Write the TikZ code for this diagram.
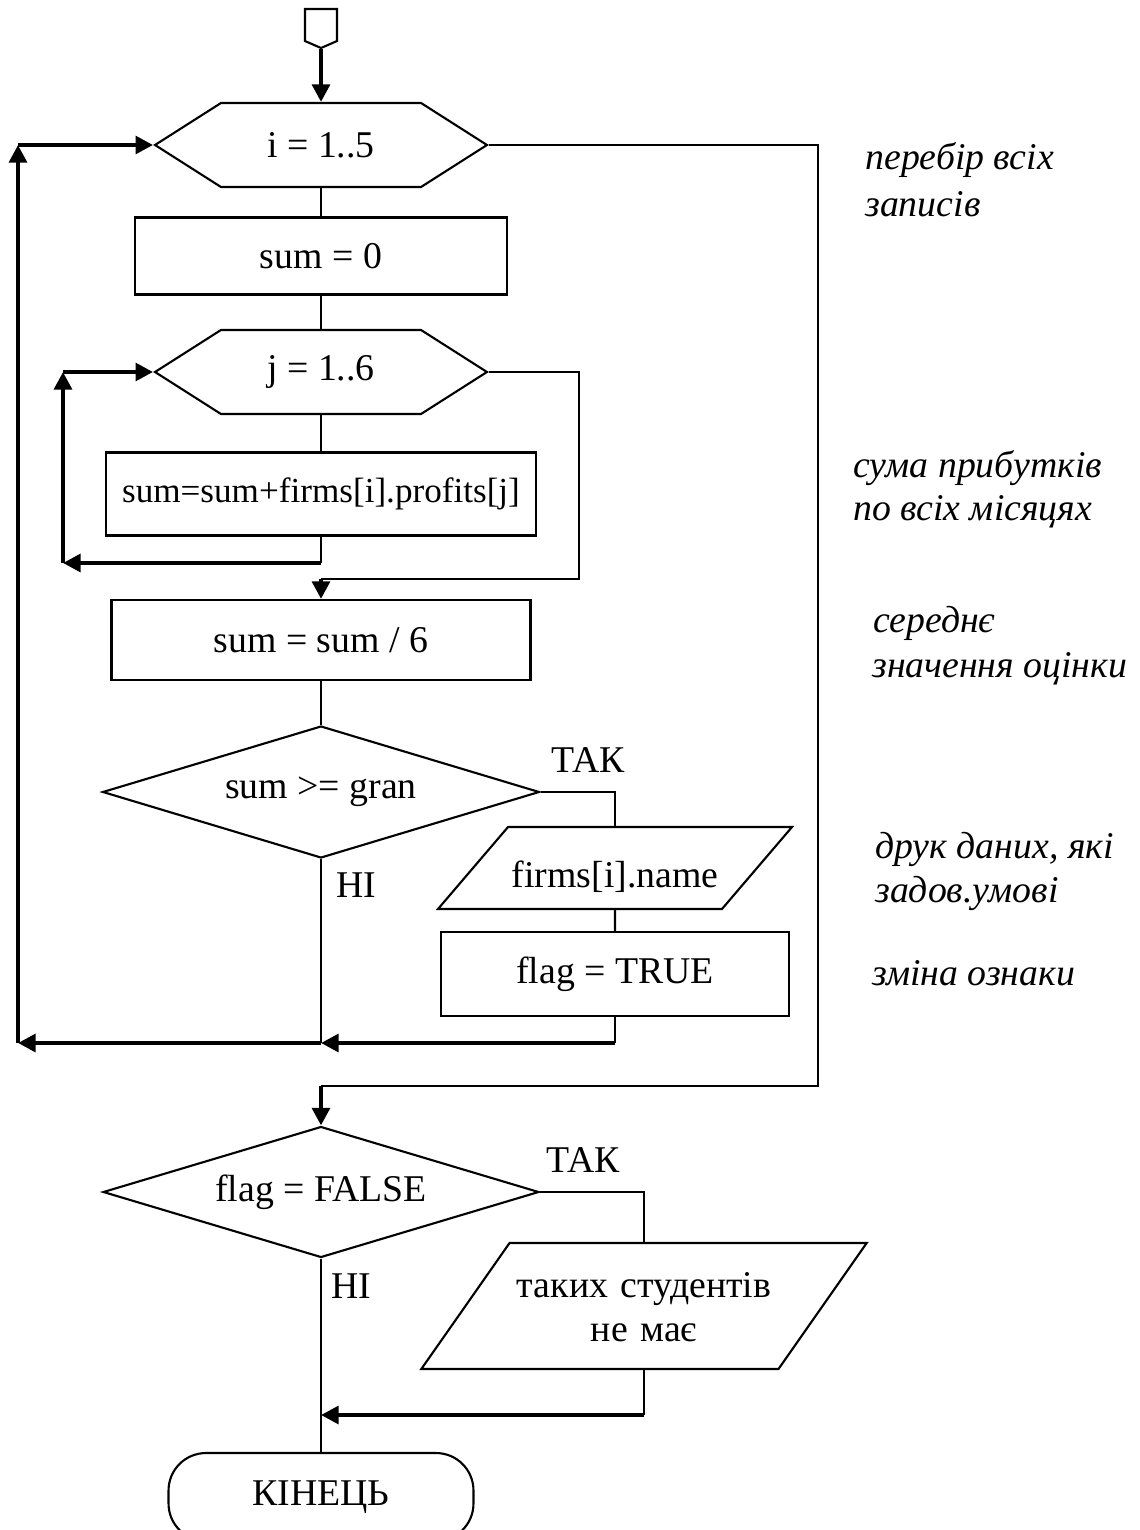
\documentclass[tikz,border=0pt]{standalone}
\usepackage{fontspec}
\setmainfont{Liberation Serif}
\usepackage{tikz}
\usetikzlibrary{arrows.meta}
\usetikzlibrary{shapes}

\begin{document}
\begin{tikzpicture}
[x=0.02cm,y=-0.02cm,%
  lineDecorate/.style={-,line width=1.2pt},%
  arrowDecorate/.style={-{Triangle[length=10pt,width=10pt]},line width=2.4pt},%
  loopDecorate/.style={shape=signal,signal to=west and east,signal pointer angle=65,draw,line width=1.2pt,inner sep=0pt,minimum width=6.64cm,minimum height=1.68cm},%
  boxDecorate/.style={shape=rectangle,draw,line width=1.2pt,inner sep=0pt},%
  ifDecorate/.style={shape=diamond,aspect=3.3,draw,line width=1.2pt,inner sep=0pt},%
  ioDecorate/.style={shape=trapezium,draw,line width=1.2pt,inner sep=0pt,align=center},%
  endDecorate/.style={shape=rectangle,rounded corners=0.75cm,draw,line width=1.2pt,inner sep=0pt,minimum width=6.1cm,minimum height=1.76cm},%
  noteDecorate/.style={anchor=base west,inner sep=0pt,font=\itshape}]
\fontsize{21.5}{25.5}\selectfont
\clip (0,0) rectangle (1139,1530);
%% nodes
\node[shape=signal,signal to=south,signal pointer angle=133,draw,line width=1.2pt,inner sep=0pt,minimum width=0.64cm,minimum height=0.64cm,anchor=north] (start) at (321,8) {};
\node[loopDecorate] (h1) at (321,145) {i = 1..5};
\node[boxDecorate,minimum width=7.44cm,minimum height=1.54cm] (s0) at (321,256) {sum = 0};
\node[loopDecorate] (h2) at (321,372) {j = 1..6};
\node[boxDecorate,minimum width=8.6cm,minimum height=1.66cm,font=\fontsize{20}{24}\selectfont] (acc) at (321,494) {sum=sum+firms[i].profits[j]};
\node[boxDecorate,minimum width=8.38cm,minimum height=1.6cm] (avg) at (321,640) {sum = sum / 6};
\node[ifDecorate,minimum width=8.74cm,minimum height=2.64cm] (d1) at (321,792) {sum >= gran};
\node[ioDecorate,trapezium left angle=49.5,trapezium right angle=130.5,text width=4.28cm,text height=1.2cm,text depth=0.44cm] (out1) at (615,868) {firms[i].name};
\node[boxDecorate,minimum width=6.96cm,minimum height=1.68cm] (set1) at (615,974) {flag = TRUE};
\node[ifDecorate,minimum width=8.72cm,minimum height=2.62cm] (d2) at (321,1192) {flag = FALSE};
\node[ioDecorate,trapezium left angle=55,trapezium right angle=125,text width=5.38cm,text height=1.08cm,text depth=1.44cm] (out2) at (644,1306) {таких студентів\\не має};
\node[endDecorate] (stop) at (321,1497) {КІНЕЦЬ};
%% branch labels
\node (yes1) at (588,760) {ТАК};
\node (no1) at (356,885) {НІ};
\node (yes2) at (583,1160) {ТАК};
\node (no2) at (351,1286) {НІ};
%% comments
\foreach \xpos/\ypos/\notetext in {
  865/170/{перебір всіх}, 865/217/{записів},
  853/477/{сума прибутків}, 853/520/{по всіх місяцях},
  873/632/{середнє}, 872/677/{значення оцінки},
  875/858/{друк даних, які}, 875/902/{задов.умові},
  872/985/{зміна ознаки}}
{
  \node[noteDecorate] (note\ypos) at (\xpos,\ypos) {\notetext};
}
%% main flow
\draw[arrowDecorate] (start.south) -- (h1.north);
\draw[lineDecorate] (h1.south) -- (s0.north);
\draw[lineDecorate] (s0.south) -- (h2.north);
\draw[lineDecorate] (h2.south) -- (acc.north);
\draw[lineDecorate] (avg.south) -- (d1.north);
%% inner loop
\coordinate (jback) at (63,563);
\draw[lineDecorate] (acc.south) -- (acc.south |- jback);
\draw[arrowDecorate] (acc.south |- jback) -- (jback);
\draw[arrowDecorate] (jback) -- (jback |- h2.west);
\draw[arrowDecorate] (jback |- h2.west) -- (h2.west);
\coordinate (jexit) at (579,579);
\draw[lineDecorate] (h2.east) -| (jexit) -- (avg.north |- jexit);
\draw[arrowDecorate] (avg.north |- jexit) -- (avg.north);
%% condition and outer loop
\draw[lineDecorate] (d1.east) -| (out1.north);
\draw[lineDecorate] (out1.south) -- (set1.north);
\coordinate (iback) at (18,1043);
\draw[lineDecorate] (set1.south) -- (set1.south |- iback);
\draw[arrowDecorate] (set1.south |- iback) -- (d1.south |- iback);
\draw[lineDecorate] (d1.south) -- (d1.south |- iback);
\draw[arrowDecorate] (d1.south |- iback) -- (iback);
\draw[arrowDecorate] (iback) -- (iback |- h1.west);
\draw[arrowDecorate] (iback |- h1.west) -- (h1.west);
\coordinate (iexit) at (818,1086);
\draw[lineDecorate] (h1.east) -| (iexit) -- (d2.north |- iexit);
\draw[arrowDecorate] (d2.north |- iexit) -- (d2.north);
%% final check
\coordinate (fback) at (643,1415);
\draw[lineDecorate] (d2.east) -| (out2.north);
\draw[lineDecorate] (out2.south) -- (out2.south |- fback);
\draw[arrowDecorate] (out2.south |- fback) -- (d2.south |- fback);
\draw[lineDecorate] (d2.south) -- (stop.north);
\end{tikzpicture}
\end{document}
